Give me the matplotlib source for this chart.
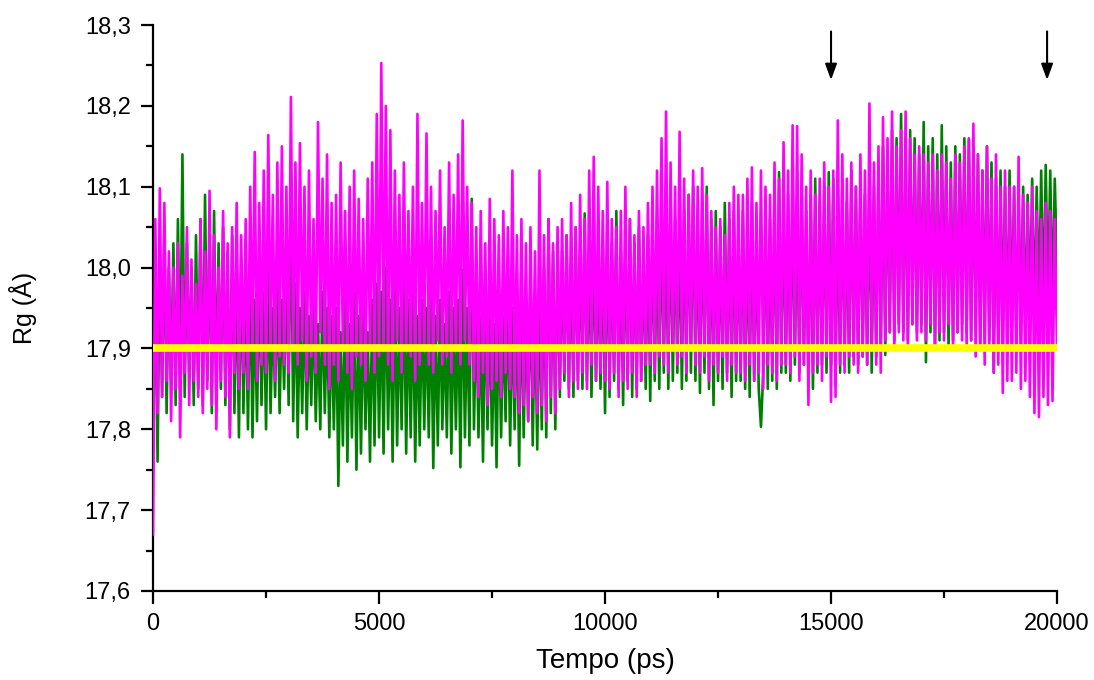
import numpy as np
import matplotlib
matplotlib.use("Agg")
import matplotlib.pyplot as plt

plt.rcParams['font.family'] = ['Liberation Sans', 'DejaVu Sans']

rg_magenta = [
    17.67, 18.06, 17.82, 18.098, 17.84, 18.08, 17.86, 18.02, 17.81, 18.0, 17.85, 18.03, 17.79, 17.99, 17.87, 18.05, 17.83, 18.01, 17.86, 17.98,
    17.84, 18.06, 17.82, 18.02, 17.85, 18.095, 17.83, 18.04, 17.80, 18.0, 17.86, 18.07, 17.84, 18.03, 17.79, 18.05, 17.87, 18.08, 17.85, 18.04,
    17.87, 18.06, 17.85, 18.1, 17.9, 18.143, 17.86, 18.08, 17.88, 18.12, 17.87, 18.164, 17.9, 18.09, 17.86, 18.13, 17.89, 18.15, 17.88, 18.1,
    17.87, 18.211, 17.9, 18.13, 17.88, 18.154, 17.91, 18.1, 17.86, 18.12, 17.89, 18.06, 17.87, 18.18, 17.92, 18.11, 17.88, 18.14, 17.85, 18.08,
    17.88, 18.09, 17.86, 18.13, 17.9, 18.07, 17.87, 18.1, 17.85, 18.12, 17.89, 18.085, 17.88, 18.06, 17.86, 18.11, 17.9, 18.13, 17.87, 18.19,
    17.89, 18.253, 17.9, 18.2, 17.88, 18.17, 17.86, 18.12, 17.91, 18.09, 17.87, 18.13, 17.9, 18.07, 17.89, 18.1, 17.86, 18.19, 17.88, 18.08,
    17.9, 18.166, 17.88, 18.1, 17.87, 18.07, 17.91, 18.12, 17.88, 18.05, 17.89, 18.13, 17.87, 18.09, 17.9, 18.14, 17.88, 18.182, 17.91, 18.1,
    17.88, 18.08, 17.86, 18.05, 17.84, 18.07, 17.87, 18.03, 17.83, 18.085, 17.85, 18.06, 17.86, 18.04, 17.84, 18.07, 17.87, 18.05, 17.85, 18.12,
    17.84, 18.04, 17.82, 18.06, 17.83, 18.03, 17.81, 18.05, 17.84, 18.02, 17.82, 18.12, 17.83, 18.04, 17.81, 18.06, 17.84, 18.03, 17.82, 18.05,
    17.85, 18.06, 17.87, 18.04, 17.84, 18.08, 17.86, 18.05, 17.85, 18.09, 17.87, 18.06, 17.85, 18.12, 17.88, 18.137, 17.86, 18.1, 17.87, 18.07,
    17.86, 18.106, 17.85, 18.06, 17.87, 18.05, 17.84, 18.07, 17.86, 18.1, 17.85, 18.06, 17.87, 18.04, 17.84, 18.07, 17.86, 18.05, 17.88, 18.08,
    17.88, 18.1, 17.87, 18.12, 17.89, 18.16, 17.88, 18.193, 17.87, 18.13, 17.9, 18.1, 17.88, 18.168, 17.89, 18.11, 17.87, 18.09, 17.9, 18.12,
    17.88, 18.1, 17.87, 18.123, 17.89, 18.09, 17.86, 18.07, 17.88, 18.05, 17.87, 18.06, 17.89, 18.04, 17.86, 18.08, 17.88, 18.1, 17.87, 18.09,
    17.87, 18.09, 17.86, 18.11, 17.88, 18.124, 17.86, 18.08, 17.87, 18.12, 17.85, 18.1, 17.88, 18.09, 17.87, 18.13, 17.86, 18.11, 17.88, 18.155,
    17.88, 18.12, 17.87, 18.176, 17.89, 18.175, 17.86, 18.14, 17.88, 18.1, 17.83, 18.12, 17.87, 18.09, 17.88, 18.11, 17.86, 18.13, 17.89, 18.1,
    17.834, 18.12, 17.84, 18.182, 17.88, 18.14, 17.87, 18.11, 17.89, 18.13, 17.88, 18.1, 17.87, 18.14, 17.89, 18.12, 17.88, 18.203, 17.9, 18.13,
    17.88, 18.15, 17.87, 18.186, 17.91, 18.16, 17.92, 18.193, 17.9, 18.15, 17.92, 18.17, 17.91, 18.193, 17.9, 18.16, 17.93, 18.14, 17.91, 18.15,
    17.92, 18.14, 17.91, 18.13, 17.93, 18.14, 17.9, 18.12, 17.92, 18.14, 17.91, 18.13, 17.93, 18.11, 17.9, 18.14, 17.92, 18.13, 17.91, 18.15,
    17.9, 18.16, 17.91, 18.178, 17.89, 18.14, 17.9, 18.12, 17.88, 18.15, 17.9, 18.11, 17.87, 18.14, 17.88, 18.1, 17.845, 18.12, 17.86, 18.1,
    17.86, 18.1, 17.87, 18.137, 17.85, 18.09, 17.86, 18.08, 17.84, 18.1, 17.82, 18.07, 17.815, 18.06, 17.84, 18.08, 17.83, 18.07, 17.835, 18.06,
    17.9,
]

rg_green = [
    17.78, 17.98, 17.76, 18.02, 17.84, 18.05, 17.82, 18.0, 17.86, 18.03, 17.83, 18.06, 17.85, 18.14, 17.84, 18.03, 17.87, 18.0, 17.83, 18.04,
    17.85, 18.06, 17.83, 18.09, 17.86, 18.04, 17.82, 18.07, 17.84, 18.03, 17.85, 18.05, 17.83, 18.02, 17.80, 18.04, 17.82, 18.0, 17.79, 18.01,
    17.82, 17.98, 17.80, 18.0, 17.79, 17.96, 17.81, 17.99, 17.83, 17.97, 17.80, 18.0, 17.82, 17.95, 17.84, 17.98, 17.82, 17.96, 17.85, 18.0,
    17.83, 18.108, 17.81, 17.98, 17.79, 17.95, 17.82, 17.97, 17.80, 17.94, 17.83, 17.96, 17.81, 17.93, 17.80, 17.97, 17.82, 17.95, 17.79, 17.94,
    17.80, 17.95, 17.73, 17.92, 17.78, 17.96, 17.76, 17.93, 17.79, 17.97, 17.75, 17.94, 17.77, 17.95, 17.80, 17.92, 17.76, 17.96, 17.78, 17.98,
    17.79, 17.97, 17.77, 18.0, 17.80, 17.96, 17.76, 17.98, 17.78, 17.95, 17.80, 17.99, 17.77, 17.96, 17.79, 17.97, 17.76, 17.94, 17.78, 17.96,
    17.80, 17.95, 17.79, 17.97, 17.752, 17.94, 17.78, 17.96, 17.80, 17.93, 17.79, 17.97, 17.77, 17.95, 17.80, 17.96, 17.753, 17.997, 17.79, 17.95,
    17.78, 18.085, 17.80, 17.96, 17.79, 17.94, 17.76, 17.97, 17.80, 17.95, 17.78, 17.93, 17.753, 17.96, 17.79, 17.94, 17.81, 17.97, 17.78, 17.95,
    17.80, 17.96, 17.755, 17.98, 17.79, 17.95, 17.81, 17.99, 17.78, 17.96, 17.775, 17.97, 17.80, 18.0, 17.79, 18.06, 17.82, 18.02, 17.80, 18.03,
    17.84, 18.02, 17.86, 18.04, 17.85, 18.01, 17.84, 18.05, 17.86, 18.03, 17.85, 18.067, 17.86, 18.02, 17.84, 18.04, 17.86, 18.01, 17.85, 18.03,
    17.82, 18.05, 17.84, 18.03, 17.86, 18.07, 17.85, 18.02, 17.83, 18.04, 17.86, 18.06, 17.84, 18.03, 17.85, 18.05, 17.86, 18.02, 17.85, 18.04,
    17.835, 18.06, 17.86, 18.04, 17.85, 18.07, 17.87, 18.05, 17.85, 18.08, 17.86, 18.06, 17.87, 18.05, 17.85, 18.07, 17.86, 18.09, 17.87, 18.1,
    17.86, 18.06, 17.845, 18.08, 17.87, 18.1, 17.85, 18.06, 17.83, 18.07, 17.86, 18.05, 17.85, 18.08, 17.87, 18.06, 17.84, 18.07, 17.86, 18.05,
    17.86, 18.07, 17.85, 18.06, 17.84, 18.08, 17.86, 18.05, 17.85, 17.803, 17.87, 18.07, 17.85, 18.06, 17.86, 18.09, 17.85, 18.118, 17.87, 18.08,
    17.87, 18.09, 17.86, 18.1, 17.88, 18.08, 17.87, 18.1, 17.88, 18.07, 17.86, 18.09, 17.85, 18.11, 17.87, 18.08, 17.88, 18.1, 17.87, 18.118,
    17.88, 18.11, 17.855, 18.09, 17.87, 18.1, 17.88, 18.08, 17.87, 18.12, 17.89, 18.1, 17.88, 18.11, 17.89, 18.09, 17.88, 18.12, 17.87, 18.1,
    17.89, 18.13, 17.9, 18.15, 17.892, 18.14, 17.92, 18.17, 17.91, 18.16, 17.93, 18.19, 17.92, 18.15, 17.91, 18.17, 17.93, 18.16, 17.92, 18.14,
    17.93, 18.18, 17.883, 18.15, 17.92, 18.16, 17.9, 18.14, 17.91, 18.176, 17.92, 18.15, 17.90, 18.13, 17.91, 18.15, 17.92, 18.14, 17.93, 18.16,
    17.92, 18.158, 17.91, 18.13, 17.93, 18.14, 17.9, 18.12, 17.92, 18.15, 17.91, 18.13, 17.87, 18.11, 17.9, 18.12, 17.92, 18.1, 17.91, 18.12,
    17.92, 18.1, 17.91, 18.08, 17.93, 18.1, 17.92, 18.09, 17.94, 18.11, 17.93, 18.1, 17.95, 18.12, 17.94, 18.127, 17.96, 18.12, 17.95, 18.11,
    18.0,
]

t_start, t_end = 0, 20000
reference_rg = 17.9
arrow_times = [15000, 19780]

x_ticks = [0, 5000, 10000, 15000, 20000]
x_tick_labels = ["0", "5000", "10000", "15000", "20000"]
y_ticks = [17.6, 17.7, 17.8, 17.9, 18.0, 18.1, 18.2, 18.3]
y_tick_labels = ["17,6", "17,7", "17,8", "17,9", "18,0", "18,1", "18,2", "18,3"]

t_green = np.linspace(t_start, t_end, len(rg_green))
t_magenta = np.linspace(t_start, t_end, len(rg_magenta))

fig = plt.figure(figsize=(10.94, 6.8), dpi=100)
ax = fig.add_axes([0.1399, 0.1309, 0.8263, 0.8323])

ax.plot(t_green, rg_green, color="#008000", lw=1.9, zorder=2)
ax.plot(t_magenta, rg_magenta, color="#FF00FF", lw=1.9, zorder=3)
ax.plot([t_start, t_end], [reference_rg, reference_rg], color="#FFFF00", lw=5.5, zorder=4,
        solid_capstyle="butt")

for at in arrow_times:
    ax.annotate("", xy=(at, 18.232), xytext=(at, 18.292),
                arrowprops=dict(arrowstyle="-|>,head_length=0.6,head_width=0.22", color="black",
                                lw=1.5, shrinkA=0, shrinkB=0, mutation_scale=16),
                zorder=5)

ax.set_xlim(t_start, t_end)
ax.set_ylim(17.6, 18.3)

ax.set_xticks(x_ticks)
ax.set_xticklabels(x_tick_labels)
ax.set_xticks([2500, 7500, 12500, 17500], minor=True)
ax.set_yticks(y_ticks)
ax.set_yticklabels(y_tick_labels)
ax.set_yticks([17.65, 17.75, 17.85, 17.95, 18.05, 18.15, 18.25], minor=True)

for s in ["top", "right"]:
    ax.spines[s].set_visible(False)
for s in ["left", "bottom"]:
    ax.spines[s].set_linewidth(1.6)

ax.tick_params(which="major", direction="out", length=9, width=1.6, labelsize=17, colors="black")
ax.tick_params(which="minor", direction="out", length=5, width=1.6)
ax.tick_params(axis="y", which="major", pad=7)
ax.tick_params(axis="x", which="major", pad=7)

ax.set_xlabel("Tempo (ps)", fontsize=20)
ax.set_ylabel("Rg (Å)", fontsize=18)
ax.xaxis.set_label_coords(0.5, -0.1)
ax.yaxis.set_label_coords(-0.128, 0.5)

fig.savefig("out.png", dpi=100)
